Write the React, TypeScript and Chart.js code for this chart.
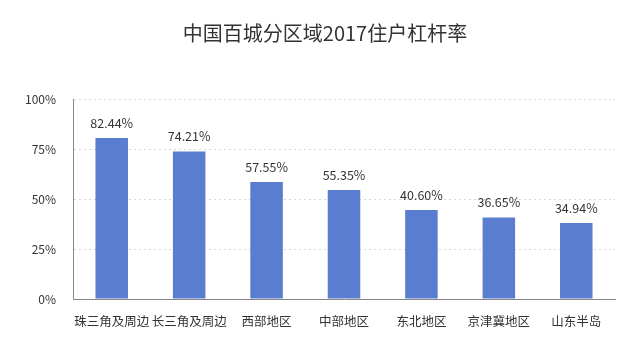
import React, { useEffect, useRef } from "react";
import { Chart, registerables } from "chart.js";

Chart.register(...registerables);

const chartTitle = "中国百城分区域2017住户杠杆率";
const regions = ["珠三角及周边", "长三角及周边", "西部地区", "中部地区", "东北地区", "京津冀地区", "山东半岛"];
const leverageLabels = ["82.44%", "74.21%", "57.55%", "55.35%", "40.60%", "36.65%", "34.94%"];
const barHeights = [80.5, 73.7, 58.5, 54.5, 44.5, 40.7, 38];
const yTicks = [0, 25, 50, 75, 100];

const FONT = "'Noto Sans CJK SC', 'Noto Sans', sans-serif";

const valueLabelPlugin = {
  id: "valueLabels",
  afterDatasetsDraw(chart: any) {
    const ctx = chart.ctx;
    const meta = chart.getDatasetMeta(0);
    ctx.save();
    ctx.font = `12.5px ${FONT}`;
    ctx.fillStyle = "#333";
    ctx.textAlign = "center";
    ctx.textBaseline = "middle";
    meta.data.forEach((bar: any, i: number) => {
      ctx.fillText(leverageLabels[i], bar.x, bar.y - 15);
    });
    ctx.restore();
  },
};

const titlePlugin = {
  id: "customTitle",
  afterDraw(chart: any) {
    const ctx = chart.ctx;
    ctx.save();
    ctx.font = `20px ${FONT}`;
    ctx.fillStyle = "#333";
    ctx.textAlign = "center";
    ctx.textBaseline = "middle";
    ctx.fillText(chartTitle, 325, 33);
    ctx.restore();
  },
};

export default function App() {
  const ref = useRef<HTMLCanvasElement>(null);
  useEffect(() => {
    const chart = new Chart(ref.current!, {
      type: "bar",
      data: {
        labels: regions,
        datasets: [
          {
            data: barHeights,
            backgroundColor: "#5b7dd0",
            categoryPercentage: 1,
            barPercentage: 0.42,
          },
        ],
      },
      options: {
        animation: false,
        responsive: false,
        maintainAspectRatio: false,
        layout: { padding: { left: 0, right: 25, top: 99, bottom: 0 } },
        plugins: {
          legend: { display: false },
          tooltip: { enabled: false },
          title: { display: false },
        },
        scales: {
          x: {
            grid: { display: false, drawTicks: false },
            border: { display: true, color: "#888", width: 1 },
            ticks: {
              color: "#333",
              font: { family: FONT, size: 12.5 },
              padding: 15,
              maxRotation: 0,
              autoSkip: false,
            },
            afterFit(scale: any) {
              scale.height = 51;
            },
          },
          y: {
            min: 0,
            max: 100,
            afterBuildTicks(scale: any) {
              scale.ticks = yTicks.map((v) => ({ value: v }));
            },
            grid: {
              color: (c: any) => (c.tick && c.tick.value === 0 ? "rgba(0,0,0,0)" : "#d8d8d8"),
              drawTicks: false,
            },
            border: { display: true, color: "#888", width: 1, dash: [2, 3] },
            ticks: {
              color: "#333",
              font: { family: FONT, size: 12 },
              padding: 17,
              callback: (v: any) => v + "%",
            },
            afterFit(scale: any) {
              scale.width = 73;
            },
          },
        },
      },
      plugins: [valueLabelPlugin, titlePlugin],
    });
    return () => chart.destroy();
  }, []);
  return (
    <div style={{ position: "fixed", left: 0, top: 0, width: 640, height: 350, background: "#fff" }}>
      <canvas ref={ref} width={640} height={350} />
    </div>
  );
}
